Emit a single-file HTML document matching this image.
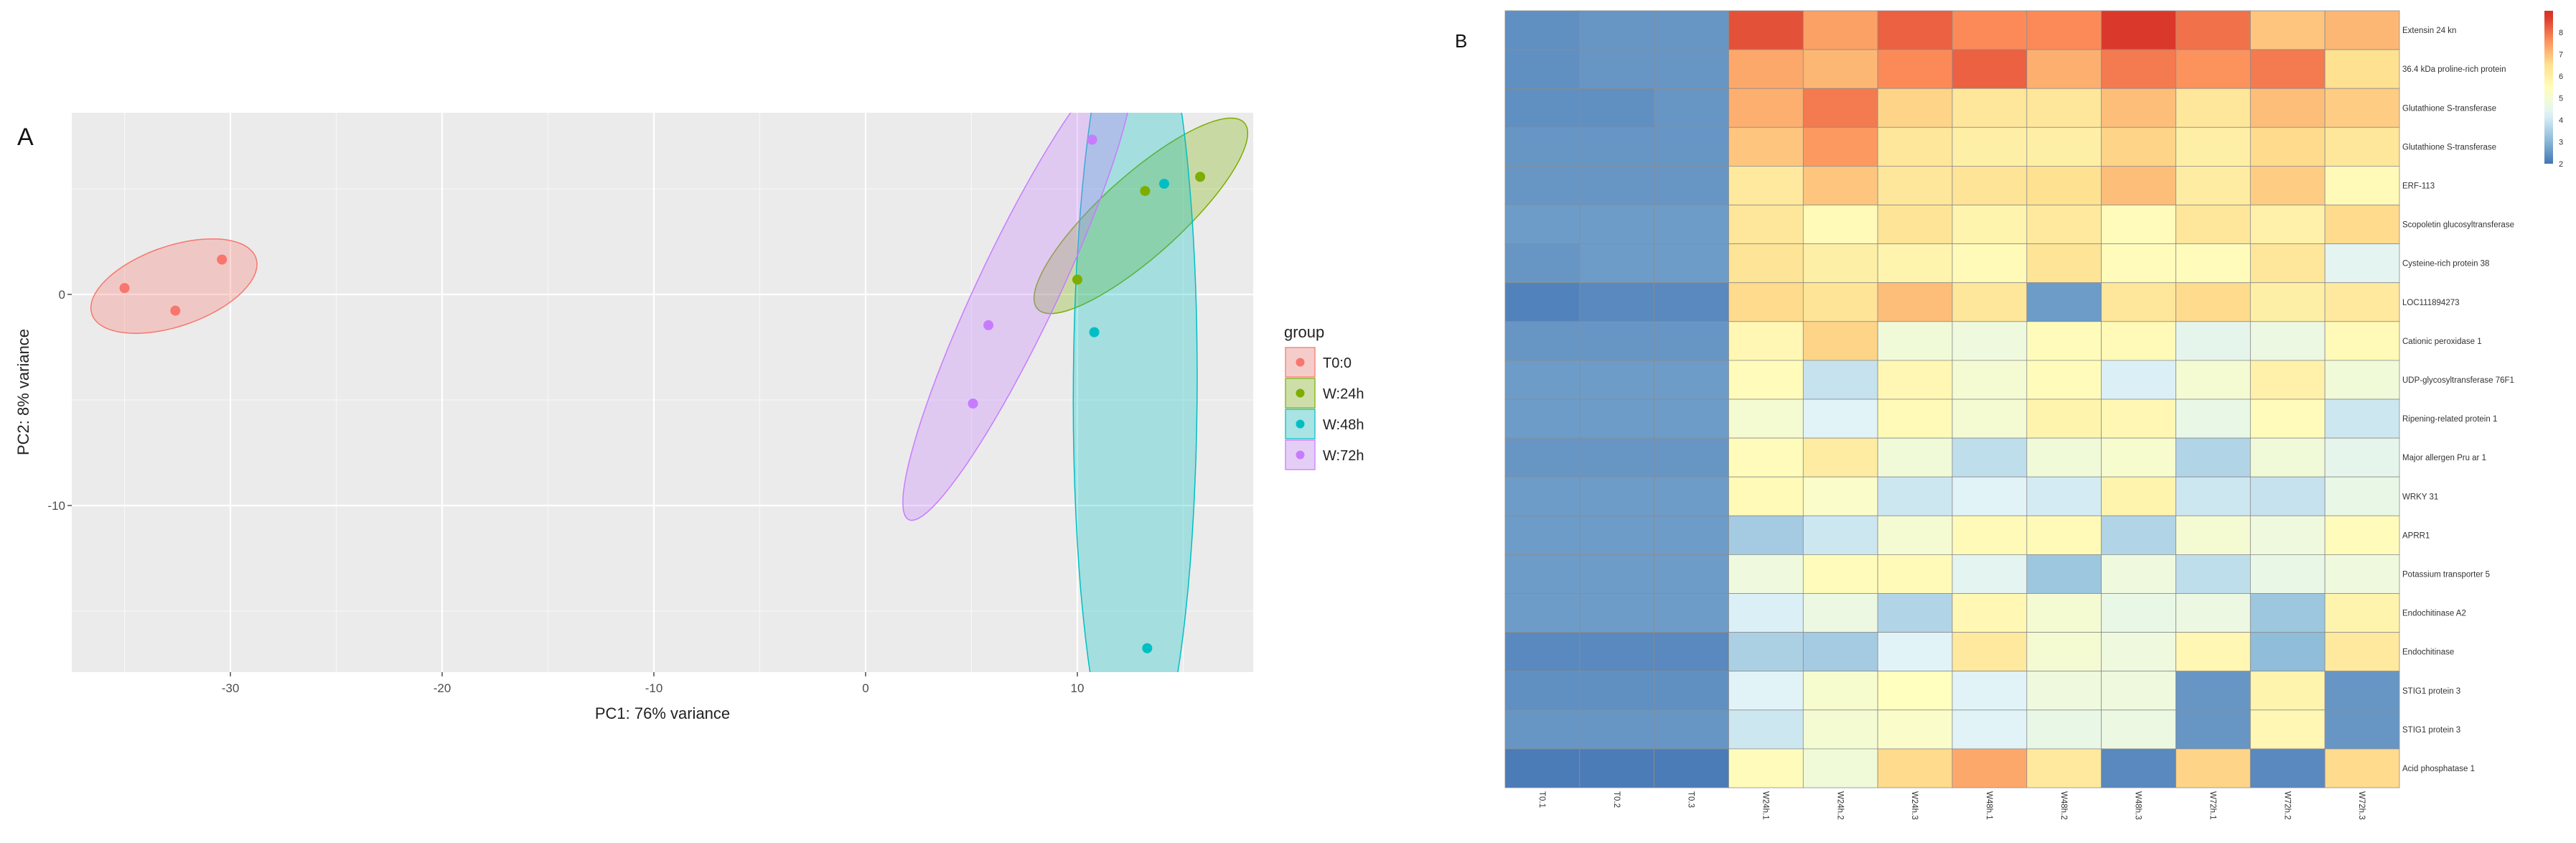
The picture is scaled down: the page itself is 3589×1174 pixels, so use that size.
<!DOCTYPE html>
<html><head><meta charset="utf-8"><title>PCA and heatmap</title>
<style>
html,body{margin:0;padding:0;background:#fff;}
svg{display:block;font-family:"Liberation Sans",sans-serif;}
</style></head>
<body>
<svg id="fig" width="3589" height="1174" viewBox="0 0 3589 1174" xmlns="http://www.w3.org/2000/svg">
<rect width="3589" height="1174" fill="#ffffff"/>
<g id="pca"></g>
<g id="heat"></g>
</svg>
<script>
// ---------- PCA data ----------
const groups = ["T0:0","W:24h","W:48h","W:72h"];
const groupColors = ["#F8766D","#7CAE00","#00BFC4","#C77CFF"];
const pc1T0 = [-35.0,-32.6,-30.4];
const pc2T0 = [0.3,-0.77,1.65];
const pc1W24 = [10.0,13.2,15.8];
const pc2W24 = [0.7,4.9,5.57];
const pc1W48 = [14.1,10.8,13.3];
const pc2W48 = [5.24,-1.79,-16.76];
const pc1W72 = [10.7,5.8,5.07];
const pc2W72 = [7.33,-1.46,-5.17];
const xTicks = [-30,-20,-10,0,10];
const yTicks = [0,-10];
const xTickLabels = ["-30","-20","-10","0","10"];
const yTickLabels = ["0","-10"];

// ---------- Heatmap data ----------
const sampleLabels = ["T0.1","T0.2","T0.3","W24h.1","W24h.2","W24h.3","W48h.1","W48h.2","W48h.3","W72h.1","W72h.2","W72h.3"];
const geneLabels = ["Extensin 24 kn","36.4 kDa proline-rich protein","Glutathione S-transferase","Glutathione S-transferase","ERF-113","Scopoletin glucosyltransferase","Cysteine-rich protein 38","LOC111894273","Cationic peroxidase 1","UDP-glycosyltransferase 76F1","Ripening-related protein 1","Major allergen Pru ar 1","WRKY 31","APRR1","Potassium transporter 5","Endochitinase A2","Endochitinase","STIG1 protein 3","STIG1 protein 3","Acid phosphatase 1"];
const rowExtensin = [2.4,2.5,2.5,8.4,7.4,8.2,7.7,7.7,8.7,8.0,6.9,7.1];
const rowProline = [2.4,2.5,2.5,7.3,7.1,7.7,8.2,7.2,7.9,7.6,7.9,6.5];
const rowGST1 = [2.4,2.4,2.5,7.2,7.9,6.7,6.3,6.3,7.0,6.3,7.0,6.8];
const rowGST2 = [2.5,2.5,2.5,6.9,7.5,6.3,6.0,6.0,6.7,6.0,6.6,6.3];
const rowERF = [2.5,2.5,2.5,6.2,6.9,6.3,6.4,6.5,7.0,6.1,6.8,5.6];
const rowScop = [2.6,2.6,2.6,6.3,5.6,6.4,5.8,6.2,5.5,6.3,5.9,6.6];
const rowCys = [2.5,2.6,2.6,6.4,6.0,5.8,5.6,6.4,5.5,5.5,6.3,4.4];
const rowLOC = [2.2,2.3,2.3,6.6,6.4,7.0,6.3,2.6,6.3,6.6,6.0,6.2];
const rowPerox = [2.5,2.5,2.5,5.7,6.7,4.9,4.8,5.5,5.6,4.5,4.7,5.6];
const rowUDP = [2.6,2.6,2.6,5.5,3.9,5.7,5.0,5.5,4.2,5.0,5.9,4.9];
const rowRipen = [2.6,2.6,2.6,5.0,4.3,5.6,5.0,5.8,5.7,4.6,5.5,4.0];
const rowAllergen = [2.5,2.5,2.5,5.5,6.1,4.9,3.8,4.9,5.1,3.6,4.9,4.5];
const rowWRKY = [2.6,2.6,2.6,5.6,5.2,4.0,4.3,4.1,5.8,4.0,3.9,4.6];
const rowAPRR = [2.6,2.6,2.6,3.4,4.0,5.0,5.6,5.6,3.6,5.0,4.8,5.5];
const rowPotas = [2.6,2.6,2.6,4.8,5.5,5.6,4.4,3.3,4.8,3.8,4.6,4.8];
const rowEndoA2 = [2.6,2.6,2.6,4.2,4.7,3.6,5.7,5.0,4.6,4.7,3.3,5.8];
const rowEndo = [2.3,2.3,2.3,3.5,3.4,4.3,6.2,5.0,4.8,5.7,3.1,6.2];
const rowSTIG1 = [2.4,2.4,2.4,4.3,5.1,5.4,4.3,4.8,4.8,2.5,5.8,2.5];
const rowSTIG2 = [2.5,2.5,2.5,4.0,5.0,5.2,4.3,4.6,4.7,2.5,5.7,2.5];
const rowAcid = [2.1,2.1,2.1,5.5,4.9,6.6,7.3,6.2,2.3,6.7,2.3,6.6];
const heatRows = [rowExtensin,rowProline,rowGST1,rowGST2,rowERF,rowScop,rowCys,rowLOC,rowPerox,rowUDP,rowRipen,rowAllergen,rowWRKY,rowAPRR,rowPotas,rowEndoA2,rowEndo,rowSTIG1,rowSTIG2,rowAcid];
const legendTicks = [2,3,4,5,6,7,8];

const NS = "http://www.w3.org/2000/svg";
function mk(parent, tag, attrs, text){
  const e = document.createElementNS(NS, tag);
  for (const k in attrs) e.setAttribute(k, attrs[k]);
  if (text !== undefined) e.textContent = text;
  parent.appendChild(e);
  return e;
}

// ---------- PCA drawing ----------
(function(){
  const g = document.getElementById('pca');
  const PX0 = 100, PX1 = 1746, PY0 = 157, PY1 = 936;
  const sx = v => 1206 + v * 29.5;
  const sy = v => 410 - v * 29.4;
  const bg = mk(g,'rect',{x:PX0,y:PY0,width:PX1-PX0,height:PY1-PY0,fill:'#EBEBEB'});
  
  
  const defs = mk(g,'defs',{});
  const cp = mk(defs,'clipPath',{id:'pcaclip'});
  mk(cp,'rect',{x:PX0,y:PY0,width:PX1-PX0,height:PY1-PY0});
  for (let v=-35; v<=15; v+=10){
    const l = mk(g,'line',{x1:sx(v),x2:sx(v),y1:PY0,y2:PY1,stroke:'#F7F7F7','stroke-width':1.2});
    
    
  }
  [5,-5,-15].forEach(v=>{
    const l = mk(g,'line',{x1:PX0,x2:PX1,y1:sy(v),y2:sy(v),stroke:'#F7F7F7','stroke-width':1.2});
    
    
  });
  xTicks.forEach((v,i)=>{
    const l = mk(g,'line',{x1:sx(v),x2:sx(v),y1:PY0,y2:PY1,stroke:'#FFFFFF','stroke-width':2.2});
    
    
    const t = mk(g,'line',{x1:sx(v),x2:sx(v),y1:PY1,y2:PY1+6,stroke:'#4d4d4d','stroke-width':1.5});
    
    
    const tx = mk(g,'text',{x:sx(v),y:PY1+28,'font-size':17,fill:'#4d4d4d','text-anchor':'middle'},xTickLabels[i]);
    
    
  });
  yTicks.forEach((v,i)=>{
    const l = mk(g,'line',{x1:PX0,x2:PX1,y1:sy(v),y2:sy(v),stroke:'#FFFFFF','stroke-width':2.2});
    
    
    const t = mk(g,'line',{x1:PX0-6,x2:PX0,y1:sy(v),y2:sy(v),stroke:'#4d4d4d','stroke-width':1.5});
    
    
    const tx = mk(g,'text',{x:PX0-9,y:sy(v)+6,'font-size':17,fill:'#4d4d4d','text-anchor':'end'},yTickLabels[i]);
    
    
  });
  const xs = [pc1T0,pc1W24,pc1W48,pc1W72];
  const ys = [pc2T0,pc2W24,pc2W48,pc2W72];
  const K = 1.7;
  const MINOR_MIN = 1.9;
  const ellG = mk(g,'g',{'clip-path':'url(#pcaclip)'});
  groups.forEach((gname,gi)=>{
    const X = xs[gi], Y = ys[gi], n = X.length;
    const mx = X.reduce((a,b)=>a+b,0)/n, my = Y.reduce((a,b)=>a+b,0)/n;
    let vxx=0,vyy=0,vxy=0;
    for (let i=0;i<n;i++){vxx+=(X[i]-mx)**2; vyy+=(Y[i]-my)**2; vxy+=(X[i]-mx)*(Y[i]-my);}
    vxx/=(n-1); vyy/=(n-1); vxy/=(n-1);
    const tr=(vxx+vyy)/2, det=Math.sqrt(((vxx-vyy)/2)**2+vxy*vxy);
    const l1=tr+det, l2=Math.max(tr-det,1e-6);
    const ang=Math.atan2(l1-vxx, vxy || 1e-9);
    const R1 = K*Math.sqrt(l1), R2 = Math.max(K*Math.sqrt(l2), MINOR_MIN);
    let d='';
    for (let k=0;k<=90;k++){
      const t=k/90*2*Math.PI;
      const a=R1*Math.cos(t), b=R2*Math.sin(t);
      const ux = mx + a*Math.cos(ang) - b*Math.sin(ang);
      const uy = my + a*Math.sin(ang) + b*Math.cos(ang);
      d += (k? 'L':'M') + sx(ux).toFixed(1) + ',' + sy(uy).toFixed(1);
    }
    const e = mk(ellG,'path',{d:d+'Z',fill:groupColors[gi],'fill-opacity':0.3,stroke:groupColors[gi],'stroke-width':1.5});
    
    
  });
  groups.forEach((gname,gi)=>{
    xs[gi].forEach((xv,i)=>{
      const c = mk(g,'circle',{cx:sx(xv),cy:sy(ys[gi][i]),r:7,fill:groupColors[gi]});
      
      
    });
  });
  const xt = mk(g,'text',{x:923,y:1001,'font-size':22,fill:'#222','text-anchor':'middle'},'PC1: 76% variance');
  
  
  const yt = mk(g,'text',{x:0,y:0,'font-size':22,fill:'#222','text-anchor':'middle',transform:'translate(40,546) rotate(-90)'},'PC2: 8% variance');
  
  
  const pa = mk(g,'text',{x:24,y:202,'font-size':34,fill:'#111'},'A');
  
  
  const lt = mk(g,'text',{x:1789,y:470,'font-size':22,fill:'#222'},'group');
  
  
  groups.forEach((gname,gi)=>{
    const y0 = 483 + gi*43;
    const kb = mk(g,'rect',{x:1790,y:y0,width:43,height:43,fill:'#F2F2F2'});
    
    
    const k = mk(g,'rect',{x:1791,y:y0+1,width:41,height:41,fill:groupColors[gi],'fill-opacity':0.3,stroke:groupColors[gi],'stroke-width':1.2});
    
    
    const c = mk(g,'circle',{cx:1811.5,cy:y0+21.5,r:6,fill:groupColors[gi]});
    
    
    const t = mk(g,'text',{x:1843,y:y0+29,'font-size':20,fill:'#222'},gname);
    
    
  });
})();

// ---------- Heatmap drawing ----------
(function(){
  const g = document.getElementById('heat');
  const HX0 = 2097, HY0 = 15, HX1 = 3343, HY1 = 1097;
  const nC = sampleLabels.length, nR = geneLabels.length;
  const cw = (HX1-HX0)/nC, rh = (HY1-HY0)/nR;
  const stops = ["#4575B4","#91BFDB","#E0F3F8","#FFFFBF","#FEE090","#FC8D59","#D73027"];
  const vmin = 2, vmax = 8.8;
  function hex(h){return [1,3,5].map(i=>parseInt(h.substr(i,2),16));}
  function color(v){
    let t = (v-vmin)/(vmax-vmin); t=Math.max(0,Math.min(1,t));
    const p = t*(stops.length-1), i=Math.min(Math.floor(p),stops.length-2), f=p-i;
    const a=hex(stops[i]), b=hex(stops[i+1]);
    return 'rgb('+a.map((x,j)=>Math.round(x+(b[j]-x)*f)).join(',')+')';
  }
  const pb = mk(g,'text',{x:2027,y:66,'font-size':26,fill:'#111'},'B');
  
  
  heatRows.forEach((row,ri)=>{
    row.forEach((v,ci)=>{
      const r = mk(g,'rect',{x:HX0+ci*cw,y:HY0+ri*rh,width:cw,height:rh,fill:color(v),stroke:'#8c8c8c','stroke-width':0.8});
      
      
    });
    const t = mk(g,'text',{x:HX1+4,y:HY0+ri*rh+rh/2+4,'font-size':11.5,fill:'#333'},geneLabels[ri]);
    
    
  });
  sampleLabels.forEach((s,ci)=>{
    const x = HX0+ci*cw+cw/2;
    const t = mk(g,'text',{x:0,y:0,'font-size':11.5,fill:'#333',transform:'translate('+(x-4)+','+(HY1+5)+') rotate(90)'},s);
    
    
  });
  const LX = 3545, LY0 = 15, LY1 = 228, lmin = 2, lmax = 8.98;
  const ly = v => LY1 - (v-lmin)/(lmax-lmin)*(LY1-LY0);
  const defs = mk(g,'defs',{});
  const grad = mk(defs,'linearGradient',{id:'cbar',x1:0,y1:1,x2:0,y2:0});
  for (let k=0;k<=20;k++){
    const v = lmin + (lmax-lmin)*k/20;
    mk(grad,'stop',{offset:(k/20),'stop-color':color(v)});
  }
  const cb = mk(g,'rect',{x:LX,y:LY0,width:12,height:LY1-LY0,fill:'url(#cbar)'});
  
  
  legendTicks.forEach(v=>{
    const t = mk(g,'text',{x:LX+20,y:ly(v)+4,'font-size':11,fill:'#333'},String(v));
    
    
  });
})();
</script>
</body></html>
